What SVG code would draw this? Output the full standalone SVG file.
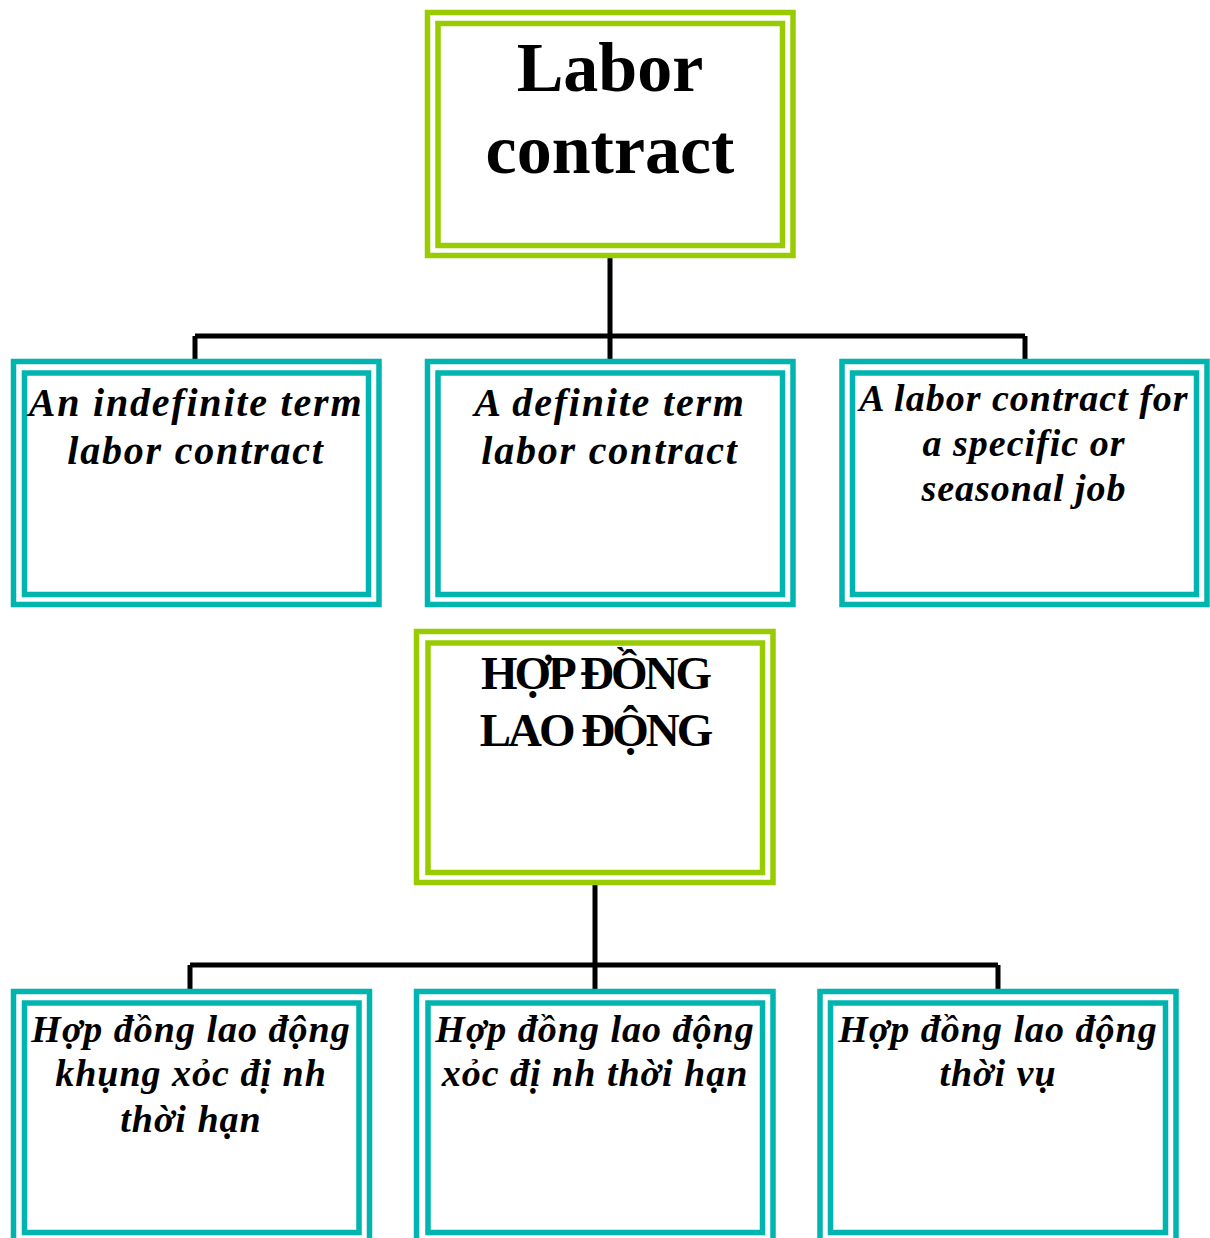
<svg xmlns="http://www.w3.org/2000/svg" width="1210" height="1238" viewBox="0 0 1210 1238">
  <style>
    .frame { fill: none; stroke-width: 5.5; }
    .green { stroke: #99CC00; }
    .teal { stroke: #00B5B0; }
    .conn { fill: none; stroke: #000000; stroke-width: 5; }
    .title { font-family: "Liberation Serif", "Times New Roman", serif; font-weight: bold; text-anchor: middle; fill: #000; }
    .label { font-family: "Liberation Serif", "Times New Roman", serif; font-weight: bold; font-style: italic; text-anchor: middle; fill: #000; }
  </style>
  <rect width="1210" height="1238" fill="#ffffff"/>

  <!-- tree connectors -->
  <g id="connectors">
    <path class="conn" d="M610 258 V361 M195 336 H1025 M195 336 V361 M1025 336 V361"/>
    <path class="conn" d="M595 885 V991 M190 965 H998 M190 965 V991 M998 965 V991"/>
  </g>

  <!-- English tree -->
  <g id="labor-contract">
    <rect class="frame green" x="427.5" y="12.5" width="365.5" height="243"/>
    <rect class="frame green" x="438" y="23.5" width="344.5" height="222"/>
    <text class="title" x="610" y="91" font-size="70">Labor</text>
    <text class="title" x="610" y="173" font-size="70">contract</text>
  </g>

  <g id="indefinite-term">
    <rect class="frame teal" x="13.5" y="361.5" width="365.5" height="243"/>
    <rect class="frame teal" x="24.5" y="373" width="344" height="221.5"/>
    <text class="label" x="196" y="416" font-size="40" letter-spacing="1.8">An indefinite term</text>
    <text class="label" x="196" y="464" font-size="40" letter-spacing="1.8">labor contract</text>
  </g>

  <g id="definite-term">
    <rect class="frame teal" x="427.5" y="361.5" width="365.5" height="243"/>
    <rect class="frame teal" x="438" y="373" width="344.5" height="221.5"/>
    <text class="label" x="610" y="416" font-size="40" letter-spacing="1.8">A definite term</text>
    <text class="label" x="610" y="464" font-size="40" letter-spacing="1.8">labor contract</text>
  </g>

  <g id="specific-seasonal">
    <rect class="frame teal" x="842" y="361.5" width="365" height="243"/>
    <rect class="frame teal" x="852.5" y="373" width="344" height="221.5"/>
    <text class="label" x="1024" y="411" font-size="38" letter-spacing="1">A labor contract for</text>
    <text class="label" x="1024" y="456" font-size="38" letter-spacing="1">a specific or</text>
    <text class="label" x="1024" y="501" font-size="38" letter-spacing="1">seasonal job</text>
  </g>

  <!-- Vietnamese tree -->
  <g id="hop-dong-lao-dong">
    <rect class="frame green" x="416.5" y="631.5" width="356.5" height="251"/>
    <rect class="frame green" x="428" y="643" width="334.5" height="229.5"/>
    <text class="title" x="595" y="689" font-size="47" letter-spacing="-3">HỢP ĐỒNG</text>
    <text class="title" x="595" y="746" font-size="47" letter-spacing="-3">LAO ĐỘNG</text>
  </g>

  <g id="khong-xac-dinh">
    <rect class="frame teal" x="13.5" y="991.5" width="356" height="262"/>
    <rect class="frame teal" x="24.5" y="1003" width="334.5" height="229.5"/>
    <text class="label" x="191" y="1042" font-size="38" letter-spacing="1">Hợp đồng lao động</text>
    <text class="label" x="191" y="1086" font-size="38" letter-spacing="1">khụng xỏc đị nh</text>
    <text class="label" x="191" y="1132" font-size="38" letter-spacing="1">thời hạn</text>
  </g>

  <g id="xac-dinh">
    <rect class="frame teal" x="416.5" y="991.5" width="356.5" height="262"/>
    <rect class="frame teal" x="428" y="1003" width="334.5" height="229.5"/>
    <text class="label" x="595" y="1042" font-size="38" letter-spacing="1">Hợp đồng lao động</text>
    <text class="label" x="595" y="1086" font-size="38" letter-spacing="1">xỏc đị nh thời hạn</text>
  </g>

  <g id="thoi-vu">
    <rect class="frame teal" x="820" y="991.5" width="356" height="262"/>
    <rect class="frame teal" x="830.5" y="1003" width="335" height="229.5"/>
    <text class="label" x="998" y="1042" font-size="38" letter-spacing="1">Hợp đồng lao động</text>
    <text class="label" x="998" y="1086" font-size="38" letter-spacing="1">thời vụ</text>
  </g>
</svg>
